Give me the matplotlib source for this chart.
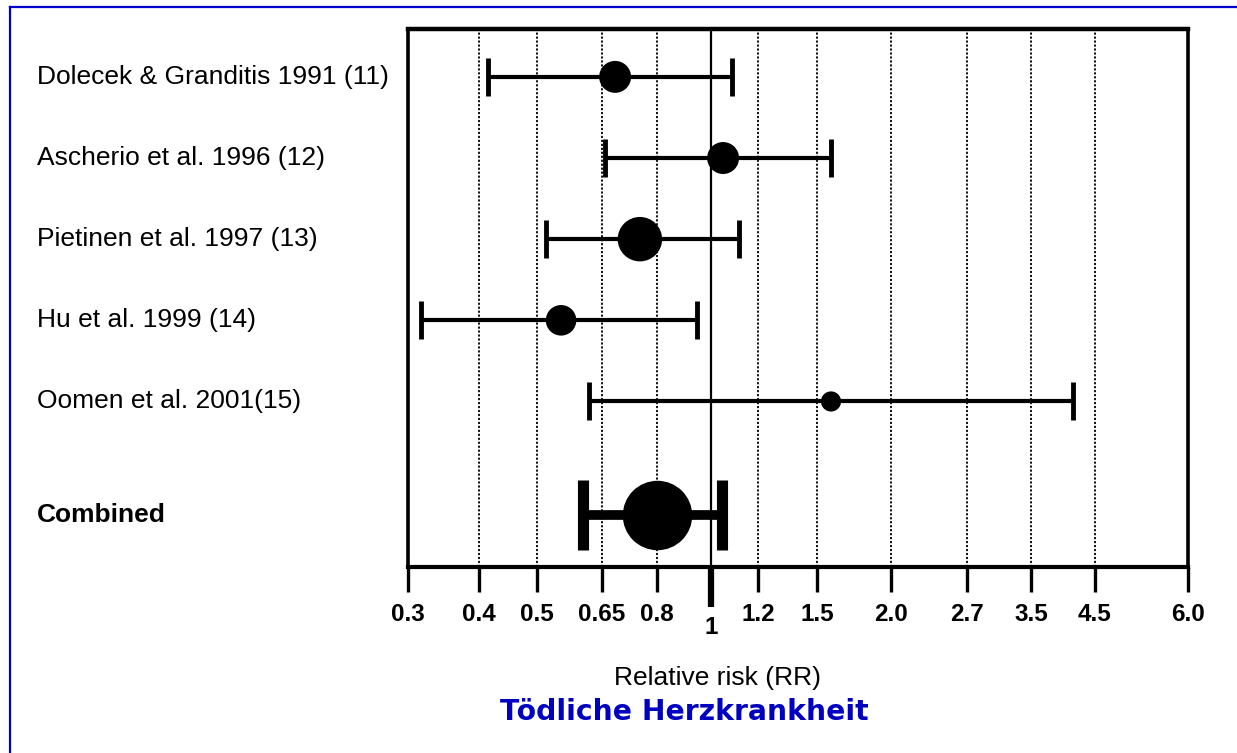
import numpy as np
import matplotlib
matplotlib.use("Agg")
import matplotlib.pyplot as plt
from matplotlib.lines import Line2D
from matplotlib.transforms import blended_transform_factory

# study data (relative risk with 95% CI)
studies = ["Dolecek & Granditis 1991 (11)", "Ascherio et al. 1996 (12)", "Pietinen et al. 1997 (13)",
           "Hu et al. 1999 (14)", "Oomen et al. 2001(15)"]
rr    = [0.683, 1.048, 0.750, 0.551, 1.584]
rr_lo = [0.414, 0.657, 0.518, 0.316, 0.617]
rr_hi = [1.085, 1.584, 1.115, 0.944, 4.13]
combined_rr, combined_lo, combined_hi = 0.80, 0.602, 1.044

# printed axis: tick values and their (uneven) spacing on the original chart
tick_vals = [0.3, 0.4, 0.5, 0.65, 0.8, 1.0, 1.2, 1.5, 2.0, 2.7, 3.5, 4.5, 6.0]
tick_labels = ["0.3", "0.4", "0.5", "0.65", "0.8", "1", "1.2", "1.5", "2.0", "2.7", "3.5", "4.5", "6.0"]
axis_spacing = [0, 71, 129, 194, 249, 303, 350, 409, 483, 559, 623, 687, 780]

dot_size = [23, 23, 32, 22, 14.5]   # marker diameter in points (study weight)
combined_dot = 50

W, H = 1237, 753
log_ticks = np.log(tick_vals)


def fwd(x):
    x = np.clip(np.asarray(x, dtype=float), 1e-6, None)
    return np.interp(np.log(x), log_ticks, axis_spacing)


def inv(p):
    return np.exp(np.interp(p, axis_spacing, log_ticks))


fig = plt.figure(figsize=(W / 100, H / 100), dpi=100)
ax = fig.add_axes([408 / W, 1 - 567 / H, 780 / W, 538 / H])
ax.set_xscale("function", functions=(fwd, inv))
ax.set_xlim(0.3, 6.0)

ys = np.arange(len(studies))
y_comb = 5.4
ax.set_ylim(6.04, -0.59)
ax.set_yticks([])

# grid lines at the printed ticks
for v in tick_vals[1:-1]:
    if v == 1.0:
        ax.axvline(v, color="black", lw=1.6, zorder=1)
    else:
        ax.axvline(v, color="black", lw=1.3, ls=(0, (1.2, 1.0)), zorder=1)

# spines
for side in ["left", "right"]:
    ax.spines[side].set_linestyle((0, (1, 1)))
    ax.spines[side].set_linewidth(2.6)
ax.spines["top"].set_linewidth(3.2)
ax.spines["bottom"].set_linewidth(3.0)

# study rows
rr_a = np.array(rr)
xerr = [rr_a - np.array(rr_lo), np.array(rr_hi) - rr_a]
ax.errorbar(rr_a, ys, xerr=xerr, fmt="none", ecolor="black", elinewidth=3.0,
            capsize=14, capthick=3.5, zorder=3)
ax.scatter(rr_a, ys, s=np.array(dot_size) ** 2, color="black", zorder=4, linewidths=0)

# combined estimate
ax.errorbar([combined_rr], [y_comb], xerr=[[combined_rr - combined_lo], [combined_hi - combined_rr]],
            fmt="none", ecolor="black", elinewidth=7, capsize=25, capthick=8, zorder=3)
ax.scatter([combined_rr], [y_comb], s=combined_dot ** 2, color="black", zorder=4, linewidths=0)

# x ticks: "1" is drawn thicker and longer as a minor tick
major_vals = [v for v in tick_vals if v != 1.0]
major_labels = [l for v, l in zip(tick_vals, tick_labels) if v != 1.0]
ax.set_xticks(major_vals, labels=major_labels)
ax.set_xticks([1.0], labels=["1"], minor=True)
ax.tick_params(axis="x", which="major", length=18, width=2.4, pad=8, labelsize=17.5)
ax.tick_params(axis="x", which="minor", length=29, width=4.5, pad=6, labelsize=17.5)
for lbl in ax.get_xticklabels() + ax.get_xticklabels(minor=True):
    lbl.set_fontweight("bold")
    lbl.set_fontfamily("Liberation Sans")

# row labels
trans = blended_transform_factory(fig.transFigure, ax.transData)
for y, name in zip(ys, studies):
    ax.text(37 / W, y, name, transform=trans, va="center", ha="left",
            fontsize=19, family="Liberation Sans")
ax.text(37 / W, y_comb, "Combined", transform=trans, va="center", ha="left",
        fontsize=19, family="Liberation Sans", weight="bold")

fig.text(717 / W, 1 - 678 / H, "Relative risk (RR)", ha="center", va="center",
         fontsize=19, family="Liberation Sans")
fig.text(684 / W, 1 - 712 / H, "Tödliche Herzkrankheit", ha="center", va="center",
         fontsize=20.3, family="DejaVu Sans", weight="bold", color="#0000C0")

# blue frame (left and top)
fig.add_artist(Line2D([9.5 / W, 9.5 / W], [0, 1 - 7 / H], transform=fig.transFigure,
                      color="#0000CC", lw=1.6))
fig.add_artist(Line2D([9.5 / W, 1], [1 - 7 / H, 1 - 7 / H], transform=fig.transFigure,
                      color="#0000CC", lw=1.6))

fig.savefig("out.png", dpi=100)
